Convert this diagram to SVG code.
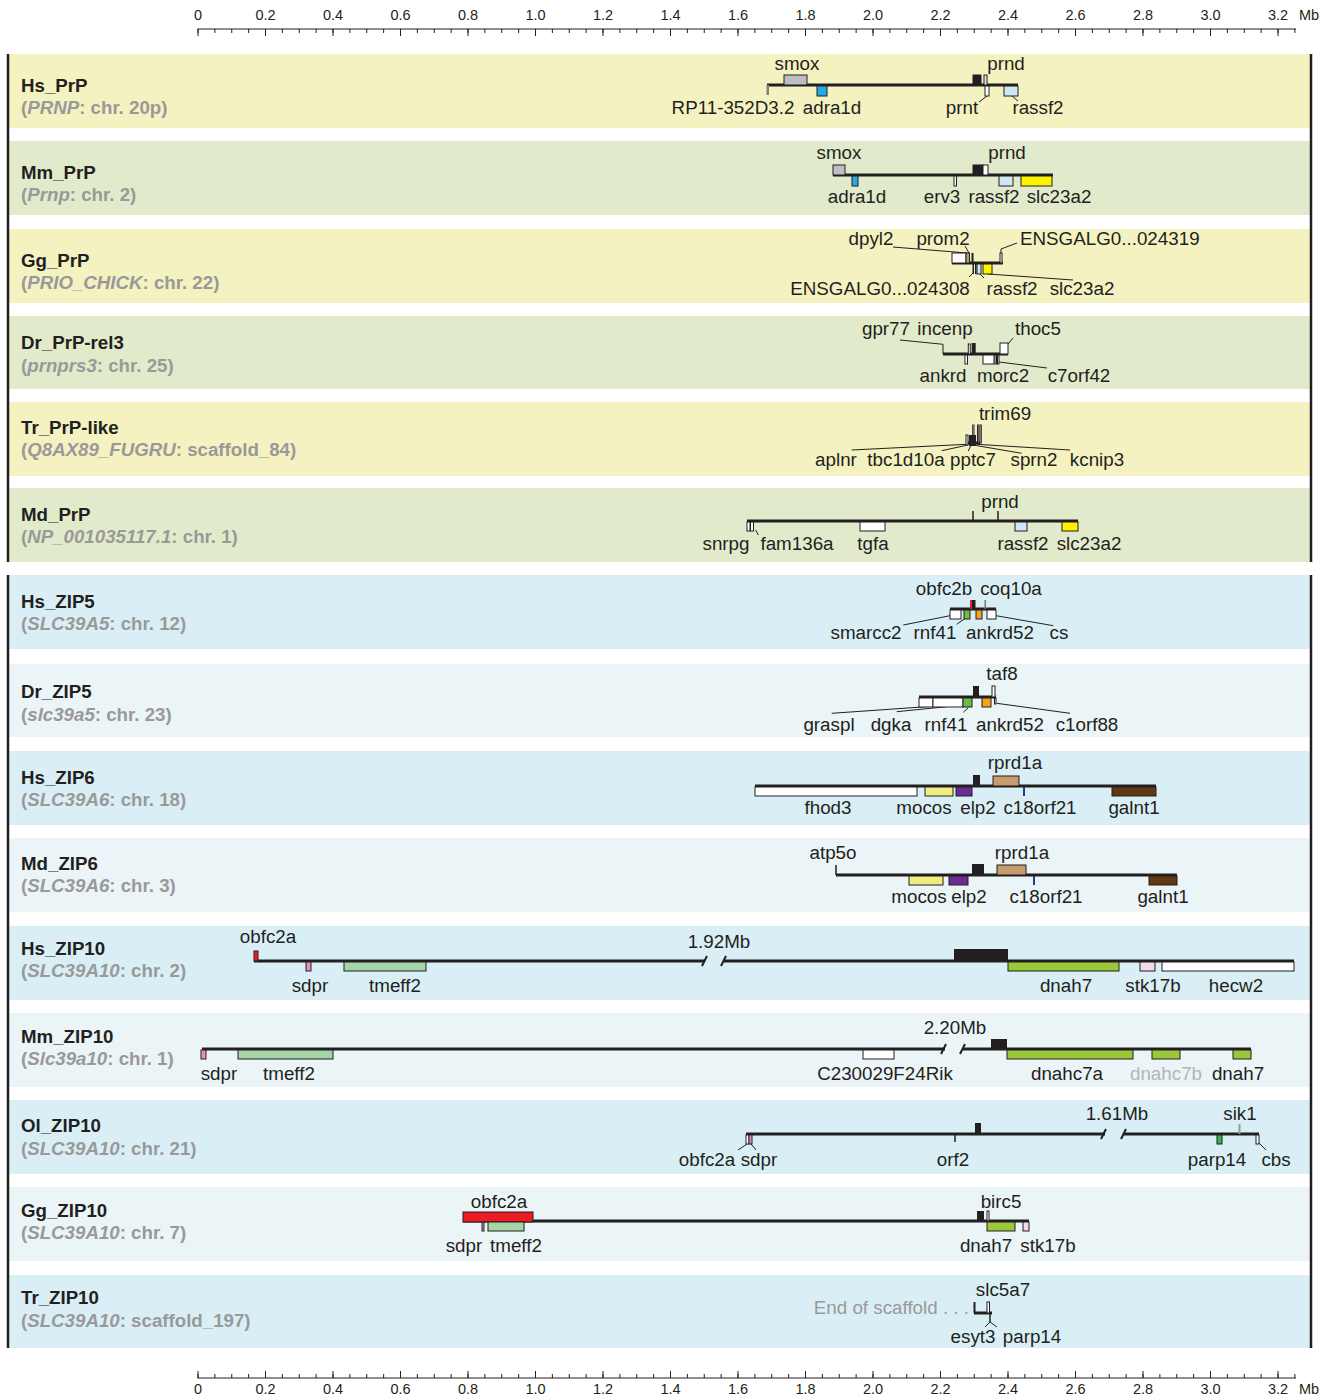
<svg xmlns="http://www.w3.org/2000/svg" width="1327" height="1397" viewBox="0 0 1327 1397">
<style>
text{font-family:"Liberation Sans",Arial,sans-serif;fill:#231f20}
.ax{font-size:14.5px;text-anchor:middle}
.nm{font-size:18.7px;font-weight:bold}
.sb{font-size:18.7px;font-weight:bold;fill:#999}
.sb tspan.i{font-style:italic}
.t{font-size:18.8px;text-anchor:middle}
.ln{stroke:#231f20;stroke-width:3;fill:none}
.tk{stroke:#231f20;stroke-width:1.5;fill:none}
.br{stroke:#231f20;stroke-width:2;fill:none}
.ld{stroke:#231f20;stroke-width:1;fill:none}
.bd{stroke:#231f20;stroke-width:2.5}
rect.g{stroke:#231f20;stroke-width:1}
.k{fill:#231f20}.w{fill:#fff}.gy{fill:#bdbec3}.bl{fill:#27aae1}.lb{fill:#cfe8f3}.ye{fill:#fff200}
.gn{fill:#6cbe45}.or{fill:#f7a21b}.pu{fill:#6a2c91}.my{fill:#f1ec7f}.tn{fill:#c69c6d}.db{fill:#1c3f94}
.bn{fill:#603913}.lg{fill:#a4d5a6}.dg{fill:#9bc83b}.pk{fill:#e58fbf}.lp{fill:#f4d9e6}.rd{fill:#ed1c24}
.ol{fill:#a7a285}.pg{fill:#39b54a}.lgy{fill:#e6e6d8}
.yb{fill:#f3f2c0}.gb{fill:#e1ebcb}.cb{fill:#d9eff5}.pb{fill:#ebf4f6}
</style>
<rect width="1327" height="1397" fill="#fff"/>
<g id="axis-top">
<line x1="197.5" y1="29" x2="1296" y2="29" stroke="#231f20" stroke-width="1.2"/>
<line x1="197.5" y1="31" x2="1296" y2="31" stroke="#231f20" stroke-width="4" stroke-dasharray="1 15.875"/>
<line x1="197.5" y1="32.5" x2="1296" y2="32.5" stroke="#231f20" stroke-width="7" stroke-dasharray="1 66.5"/>
<text class="ax" x="198" y="20">0</text><text class="ax" x="265.5" y="20">0.2</text><text class="ax" x="333" y="20">0.4</text><text class="ax" x="400.5" y="20">0.6</text><text class="ax" x="468" y="20">0.8</text><text class="ax" x="535.5" y="20">1.0</text><text class="ax" x="603" y="20">1.2</text><text class="ax" x="670.5" y="20">1.4</text><text class="ax" x="738" y="20">1.6</text><text class="ax" x="805.5" y="20">1.8</text><text class="ax" x="873" y="20">2.0</text><text class="ax" x="940.5" y="20">2.2</text><text class="ax" x="1008" y="20">2.4</text><text class="ax" x="1075.5" y="20">2.6</text><text class="ax" x="1143" y="20">2.8</text><text class="ax" x="1210.5" y="20">3.0</text><text class="ax" x="1278" y="20">3.2</text><text class="ax" x="1309" y="20">Mb</text>
</g>
<g id="axis-bottom">
<line x1="197.5" y1="1378" x2="1296" y2="1378" stroke="#231f20" stroke-width="1.2"/>
<line x1="197.5" y1="1376" x2="1296" y2="1376" stroke="#231f20" stroke-width="4" stroke-dasharray="1 15.875"/>
<line x1="197.5" y1="1374.5" x2="1296" y2="1374.5" stroke="#231f20" stroke-width="7" stroke-dasharray="1 66.5"/>
<text class="ax" x="198" y="1394">0</text><text class="ax" x="265.5" y="1394">0.2</text><text class="ax" x="333" y="1394">0.4</text><text class="ax" x="400.5" y="1394">0.6</text><text class="ax" x="468" y="1394">0.8</text><text class="ax" x="535.5" y="1394">1.0</text><text class="ax" x="603" y="1394">1.2</text><text class="ax" x="670.5" y="1394">1.4</text><text class="ax" x="738" y="1394">1.6</text><text class="ax" x="805.5" y="1394">1.8</text><text class="ax" x="873" y="1394">2.0</text><text class="ax" x="940.5" y="1394">2.2</text><text class="ax" x="1008" y="1394">2.4</text><text class="ax" x="1075.5" y="1394">2.6</text><text class="ax" x="1143" y="1394">2.8</text><text class="ax" x="1210.5" y="1394">3.0</text><text class="ax" x="1278" y="1394">3.2</text><text class="ax" x="1309" y="1394">Mb</text>
</g>
<g id="bands">
<rect class="yb" x="8" y="54" width="1303" height="74"/>
<rect class="gb" x="8" y="141" width="1303" height="74"/>
<rect class="yb" x="8" y="229" width="1303" height="74"/>
<rect class="gb" x="8" y="316" width="1303" height="73"/>
<rect class="yb" x="8" y="402" width="1303" height="74"/>
<rect class="gb" x="8" y="488" width="1303" height="74"/>
<rect class="cb" x="8" y="575" width="1303" height="74"/>
<rect class="pb" x="8" y="664" width="1303" height="73"/>
<rect class="cb" x="8" y="751" width="1303" height="74"/>
<rect class="pb" x="8" y="838" width="1303" height="74"/>
<rect class="cb" x="8" y="926" width="1303" height="74"/>
<rect class="pb" x="8" y="1013" width="1303" height="74"/>
<rect class="cb" x="8" y="1100" width="1303" height="74"/>
<rect class="pb" x="8" y="1187" width="1303" height="74"/>
<rect class="cb" x="8" y="1275" width="1303" height="73"/>
<line class="bd" x1="8" y1="54" x2="8" y2="562"/>
<line class="bd" x1="1311" y1="54" x2="1311" y2="562"/>
<line class="bd" x1="8" y1="575" x2="8" y2="1348"/>
<line class="bd" x1="1311" y1="575" x2="1311" y2="1348"/>
</g>
<g id="connectors">
<path class="ld" d="M987 96L979 102M1012 96L1018 101"/>
<path class="ld" d="M893 247L967 253M965 246L969 253M1001 253V249L1017 243M973 273L969 277M979 273L984 278M988 274L1073 280"/>
<path class="ld" d="M900 340L943 344.3V354M1008 344L1013 338M999 362L1047 368"/>
<path class="ld" d="M966.7 444.3L851.7 450M968 445L941.7 450.7M970.7 445.7L968.3 451M973 445L1021.7 453.3M976.7 444.3L1070 450"/>
<path class="ld" d="M755.7 530L758.3 535"/>
<path class="ld" d="M950 615.7L903.3 625M964.3 619L956.7 624.3M996 615.7L1053.3 625.7"/>
<path class="ld" d="M926.7 706.7L831.7 713.3M946.7 706.7L896.7 711.7M968.3 707.7L963.3 712.3M996.7 703.3L1070 713.3"/>
<path class="ld" d="M747 1144L738 1150M751 1144L756 1150M1259 1143L1266 1150"/>
<path class="ld" d="M990 1322L985 1327M990 1322L997 1327"/>
</g>
<g id="Hs_PrP">
<text class="nm" x="21" y="92">Hs_PrP</text><text class="sb" x="21" y="114">(<tspan class="i">PRNP</tspan>: chr. 20p)</text>
<line class="ln" x1="767" y1="85" x2="1018" y2="85"/>
<rect x="766.5" y="85" width="2.5" height="10" fill="#808080"/>
<rect class="g gy" x="784" y="75" width="23" height="10"/>
<rect class="g bl" x="817" y="86" width="10" height="10"/>
<rect class="g k" x="973" y="75" width="8" height="10"/>
<rect class="g lgy" x="984" y="75" width="3" height="10"/>
<rect class="g w" x="985" y="86" width="4" height="10"/>
<rect class="g lb" x="1004" y="86" width="14" height="10"/>
<text class="t" x="797" y="70">smox</text><text class="t" x="1006" y="70">prnd</text>
<text class="t" x="733" y="114">RP11-352D3.2</text><text class="t" x="832" y="114">adra1d</text><text class="t" x="962" y="114">prnt</text><text class="t" x="1038" y="114">rassf2</text>
</g>
<g id="Mm_PrP">
<text class="nm" x="21" y="179">Mm_PrP</text><text class="sb" x="21" y="201">(<tspan class="i">Prnp</tspan>: chr. 2)</text>
<line class="ln" x1="833" y1="175" x2="1053" y2="175"/>
<rect class="g gy" x="833" y="165" width="12" height="10"/>
<rect class="g bl" x="852" y="176" width="6" height="10"/>
<rect class="g w" x="954" y="176" width="2.5" height="10"/>
<rect class="g k" x="973" y="165" width="10" height="10"/>
<rect class="g w" x="983" y="165" width="5" height="10"/>
<rect class="g lb" x="999" y="176" width="14" height="10"/>
<rect class="g ye" x="1021" y="176" width="31" height="10"/>
<text class="t" x="839" y="159">smox</text><text class="t" x="1007" y="159">prnd</text>
<text class="t" x="857" y="203">adra1d</text><text class="t" x="942" y="203">erv3</text><text class="t" x="994" y="203">rassf2</text><text class="t" x="1059" y="203">slc23a2</text>
</g>
<g id="Gg_PrP">
<text class="nm" x="21" y="267">Gg_PrP</text><text class="sb" x="21" y="289">(<tspan class="i">PRIO_CHICK</tspan>: chr. 22)</text>
<line class="ln" x1="952" y1="263" x2="1003" y2="263"/>
<rect class="g w" x="952" y="253" width="14" height="10"/>
<rect class="g ol" x="966" y="253" width="3.5" height="10"/>
<rect class="k" x="971.5" y="253" width="2" height="10"/>
<rect class="k" x="972.5" y="264" width="1.5" height="10"/>
<rect class="k" x="975" y="264" width="1.5" height="10"/>
<rect class="g lb" x="977" y="264" width="4" height="10"/>
<rect class="g ye" x="983" y="264" width="9" height="10"/>
<rect class="g w" x="1000" y="253" width="2" height="10"/>
<text class="t" x="871" y="245">dpyl2</text><text class="t" x="943" y="245">prom2</text><text class="t" x="1020" y="245" style="text-anchor:start">ENSGALG0...024319</text>
<text class="t" x="880" y="295">ENSGALG0...024308</text><text class="t" x="1012" y="295">rassf2</text><text class="t" x="1082" y="295">slc23a2</text>
</g>
<g id="Dr_PrP-rel3">
<text class="nm" x="21" y="349">Dr_PrP-rel3</text><text class="sb" x="21" y="372">(<tspan class="i">prnprs3</tspan>: chr. 25)</text>
<line class="ln" x1="943" y1="354" x2="1008" y2="354"/>
<rect class="g w" x="968.3" y="344" width="2" height="10"/>
<rect class="k" x="971.7" y="343" width="4" height="11"/>
<rect class="g w" x="965" y="355" width="2.5" height="9"/>
<rect class="g w" x="983" y="355" width="11" height="9"/>
<rect class="g w" x="995" y="355" width="1.5" height="9"/>
<rect class="g w" x="997.5" y="355" width="1.5" height="9"/>
<rect class="g w" x="1000" y="343" width="8" height="11"/>
<text class="t" x="886" y="335">gpr77</text><text class="t" x="945" y="335">incenp</text><text class="t" x="1038" y="335">thoc5</text>
<text class="t" x="943" y="382">ankrd</text><text class="t" x="1003" y="382">morc2</text><text class="t" x="1079" y="382">c7orf42</text>
</g>
<g id="Tr_PrP-like">
<text class="nm" x="21" y="434">Tr_PrP-like</text><text class="sb" x="21" y="456">(<tspan class="i">Q8AX89_FUGRU</tspan>: scaffold_84)</text>
<line class="ln" x1="966" y1="443" x2="980" y2="443"/>
<rect class="g w" x="966" y="435" width="2" height="10"/>
<rect class="k" x="969" y="435" width="7" height="11"/>
<rect class="g w" x="972.7" y="425" width="1.3" height="10"/>
<rect class="g w" x="977.5" y="425" width="1.3" height="18"/>
<rect class="g w" x="980" y="425" width="1.3" height="18"/>
<text class="t" x="1005" y="420">trim69</text>
<text class="t" x="836" y="466">aplnr</text><text class="t" x="906" y="466">tbc1d10a</text><text class="t" x="973" y="466">pptc7</text><text class="t" x="1034" y="466">sprn2</text><text class="t" x="1097" y="466">kcnip3</text>
</g>
<g id="Md_PrP">
<text class="nm" x="21" y="521">Md_PrP</text><text class="sb" x="21" y="543">(<tspan class="i">NP_001035117.1</tspan>: chr. 1)</text>
<line class="ln" x1="747" y1="521" x2="1078" y2="521"/>
<rect class="g w" x="747" y="522" width="3" height="9"/>
<rect class="g w" x="750.5" y="522" width="3" height="9"/>
<rect class="g w" x="860" y="522" width="25" height="9"/>
<path class="tk" d="M973 511V521M998 511V521"/>
<rect class="g lb" x="1015" y="522" width="12" height="9"/>
<rect class="g ye" x="1062" y="522" width="16" height="9"/>
<text class="t" x="1000" y="508">prnd</text>
<text class="t" x="726" y="550">snrpg</text><text class="t" x="797" y="550">fam136a</text><text class="t" x="873" y="550">tgfa</text><text class="t" x="1023" y="550">rassf2</text><text class="t" x="1089" y="550">slc23a2</text>
</g>
<g id="Hs_ZIP5">
<text class="nm" x="21" y="608">Hs_ZIP5</text><text class="sb" x="21" y="630">(<tspan class="i">SLC39A5</tspan>: chr. 12)</text>
<line class="ln" x1="950" y1="609" x2="996" y2="609"/>
<rect class="rd" x="970" y="600" width="2" height="9"/>
<rect class="k" x="972" y="600" width="3.5" height="9"/>
<rect x="984.5" y="600" width="1.5" height="9" fill="#777"/>
<rect class="g w" x="950" y="610" width="11" height="9"/>
<rect class="g gn" x="964" y="610" width="6" height="9"/>
<rect class="g or" x="976" y="610" width="6" height="9"/>
<rect class="g w" x="987" y="610" width="9" height="9"/>
<text class="t" x="944" y="595">obfc2b</text><text class="t" x="1011" y="595">coq10a</text>
<text class="t" x="866" y="639">smarcc2</text><text class="t" x="935" y="639">rnf41</text><text class="t" x="1000" y="639">ankrd52</text><text class="t" x="1059" y="639">cs</text>
</g>
<g id="Dr_ZIP5">
<text class="nm" x="21" y="698">Dr_ZIP5</text><text class="sb" x="21" y="721">(<tspan class="i">slc39a5</tspan>: chr. 23)</text>
<line class="ln" x1="919" y1="697" x2="996" y2="697"/>
<rect class="g w" x="919" y="698" width="14" height="9"/>
<rect class="g w" x="933" y="698" width="30" height="9"/>
<rect class="g gn" x="963" y="698" width="9" height="9"/>
<rect class="k" x="973" y="686" width="6" height="11"/>
<rect class="g w" x="992" y="686" width="3" height="11"/>
<rect class="g or" x="982" y="698" width="9" height="9"/>
<rect class="g w" x="994.5" y="698" width="1.5" height="6"/>
<text class="t" x="1002" y="680">taf8</text>
<text class="t" x="829" y="731">graspl</text><text class="t" x="891" y="731">dgka</text><text class="t" x="946" y="731">rnf41</text><text class="t" x="1010" y="731">ankrd52</text><text class="t" x="1087" y="731">c1orf88</text>
</g>
<g id="Hs_ZIP6">
<text class="nm" x="21" y="784">Hs_ZIP6</text><text class="sb" x="21" y="806">(<tspan class="i">SLC39A6</tspan>: chr. 18)</text>
<line class="ln" x1="755" y1="786" x2="1156" y2="786"/>
<rect class="g w" x="755" y="787" width="162" height="9"/>
<rect class="g my" x="925" y="787" width="28" height="9"/>
<rect class="g pu" x="956" y="787" width="16" height="9"/>
<rect class="k" x="973" y="775" width="7" height="11"/>
<rect class="g tn" x="993" y="776" width="26" height="10"/>
<rect class="db" x="1023" y="787" width="2" height="9"/>
<rect class="g bn" x="1112" y="787" width="44" height="9"/>
<text class="t" x="1015" y="769">rprd1a</text>
<text class="t" x="828" y="814">fhod3</text><text class="t" x="924" y="814">mocos</text><text class="t" x="978" y="814">elp2</text><text class="t" x="1040" y="814">c18orf21</text><text class="t" x="1134" y="814">galnt1</text>
</g>
<g id="Md_ZIP6">
<text class="nm" x="21" y="870">Md_ZIP6</text><text class="sb" x="21" y="892">(<tspan class="i">SLC39A6</tspan>: chr. 3)</text>
<line class="ln" x1="836" y1="875" x2="1177" y2="875"/>
<path class="tk" d="M836 865V875"/>
<rect class="g my" x="909" y="876" width="34" height="9"/>
<rect class="g pu" x="949" y="876" width="19" height="9"/>
<rect class="k" x="972" y="864" width="12" height="11"/>
<rect class="g tn" x="997" y="865" width="29" height="10"/>
<rect class="db" x="1033" y="876" width="2" height="9"/>
<rect class="g bn" x="1149" y="876" width="28" height="9"/>
<text class="t" x="833" y="859">atp5o</text><text class="t" x="1022" y="859">rprd1a</text>
<text class="t" x="919" y="903">mocos</text><text class="t" x="969" y="903">elp2</text><text class="t" x="1046" y="903">c18orf21</text><text class="t" x="1163" y="903">galnt1</text>
</g>
<g id="Hs_ZIP10">
<text class="nm" x="21" y="955">Hs_ZIP10</text><text class="sb" x="21" y="977">(<tspan class="i">SLC39A10</tspan>: chr. 2)</text>
<line class="ln" x1="254" y1="961" x2="705" y2="961"/>
<line class="ln" x1="723" y1="961" x2="1294" y2="961"/>
<path class="br" d="M702 966L707 956M721 966L726 956"/>
<rect class="g rd" x="254" y="951" width="4" height="10"/>
<rect class="g pk" x="306" y="962" width="5" height="9"/>
<rect class="g lg" x="344" y="962" width="82" height="9"/>
<rect class="k" x="954" y="949" width="54" height="12"/>
<rect class="g dg" x="1008" y="962" width="111" height="9"/>
<rect class="g lp" x="1140" y="962" width="15" height="9"/>
<rect class="g w" x="1162" y="962" width="132" height="9"/>
<text class="t" x="268" y="943">obfc2a</text><text class="t" x="719" y="948">1.92Mb</text>
<text class="t" x="310" y="992">sdpr</text><text class="t" x="395" y="992">tmeff2</text><text class="t" x="1066" y="992">dnah7</text><text class="t" x="1153" y="992">stk17b</text><text class="t" x="1236" y="992">hecw2</text>
</g>
<g id="Mm_ZIP10">
<text class="nm" x="21" y="1043">Mm_ZIP10</text><text class="sb" x="21" y="1065">(<tspan class="i">Slc39a10</tspan>: chr. 1)</text>
<line class="ln" x1="202" y1="1049" x2="945" y2="1049"/>
<line class="ln" x1="963" y1="1049" x2="1251" y2="1049"/>
<path class="br" d="M941 1054L946 1044M960 1054L965 1044"/>
<rect class="g pk" x="201" y="1050" width="5" height="9"/>
<rect class="g lg" x="238" y="1050" width="95" height="9"/>
<rect class="g w" x="863" y="1050" width="31" height="9"/>
<rect class="k" x="991" y="1039" width="16" height="11"/>
<rect class="g dg" x="1007" y="1050" width="126" height="9"/>
<rect class="g dg" x="1152" y="1050" width="28" height="9"/>
<rect class="g dg" x="1233" y="1050" width="18" height="9"/>
<text class="t" x="955" y="1034">2.20Mb</text>
<text class="t" x="219" y="1080">sdpr</text><text class="t" x="289" y="1080">tmeff2</text><text class="t" x="885" y="1080">C230029F24Rik</text><text class="t" x="1067" y="1080">dnahc7a</text><text class="t" x="1166" y="1080" style="fill:#b5b5b5">dnahc7b</text><text class="t" x="1238" y="1080">dnah7</text>
</g>
<g id="Ol_ZIP10">
<text class="nm" x="21" y="1132">Ol_ZIP10</text><text class="sb" x="21" y="1155">(<tspan class="i">SLC39A10</tspan>: chr. 21)</text>
<line class="ln" x1="746" y1="1134" x2="1105" y2="1134"/>
<line class="ln" x1="1124" y1="1134" x2="1259" y2="1134"/>
<path class="br" d="M1101 1139L1106 1129M1121 1139L1126 1129"/>
<rect class="g w" x="746" y="1135" width="3" height="9"/>
<rect class="g pk" x="749" y="1135" width="3" height="9"/>
<rect class="k" x="975" y="1123" width="6" height="11"/>
<path class="tk" d="M955 1134V1142"/>
<rect x="1238.5" y="1124" width="2" height="10" fill="#999"/>
<rect class="g pg" x="1217" y="1135" width="5" height="9"/>
<rect class="g w" x="1256" y="1135" width="3" height="9"/>
<text class="t" x="1117" y="1120">1.61Mb</text><text class="t" x="1240" y="1120">sik1</text>
<text class="t" x="707" y="1166">obfc2a</text><text class="t" x="759" y="1166">sdpr</text><text class="t" x="953" y="1166">orf2</text><text class="t" x="1217" y="1166">parp14</text><text class="t" x="1276" y="1166">cbs</text>
</g>
<g id="Gg_ZIP10">
<text class="nm" x="21" y="1217">Gg_ZIP10</text><text class="sb" x="21" y="1239">(<tspan class="i">SLC39A10</tspan>: chr. 7)</text>
<line class="ln" x1="463" y1="1221" x2="1029" y2="1221"/>
<rect class="g rd" x="463" y="1212" width="70" height="10"/>
<rect class="g pk" x="482" y="1222" width="2" height="9"/>
<rect class="g lg" x="488" y="1222" width="36" height="9"/>
<rect class="k" x="977" y="1211" width="7" height="10"/>
<rect class="g w" x="987" y="1211" width="2" height="10"/>
<rect class="g dg" x="987" y="1222" width="28" height="9"/>
<rect class="g lp" x="1023" y="1222" width="6" height="9"/>
<text class="t" x="499" y="1208">obfc2a</text><text class="t" x="1001" y="1208">birc5</text>
<text class="t" x="464" y="1252">sdpr</text><text class="t" x="516" y="1252">tmeff2</text><text class="t" x="986" y="1252">dnah7</text><text class="t" x="1048" y="1252">stk17b</text>
</g>
<g id="Tr_ZIP10">
<text class="nm" x="21" y="1304">Tr_ZIP10</text><text class="sb" x="21" y="1327">(<tspan class="i">SLC39A10</tspan>: scaffold_197)</text>
<text class="t" x="969" y="1314" style="text-anchor:end;fill:#999">End of scaffold . . .</text>
<line class="ln" x1="974" y1="1313" x2="992" y2="1313"/>
<path class="br" d="M974.5 1302V1313"/>
<rect class="g w" x="987" y="1302" width="2.5" height="11"/>
<path class="tk" d="M990 1313V1322"/>
<text class="t" x="1003" y="1296">slc5a7</text>
<text class="t" x="973" y="1343">esyt3</text><text class="t" x="1032" y="1343">parp14</text>
</g>
</svg>
